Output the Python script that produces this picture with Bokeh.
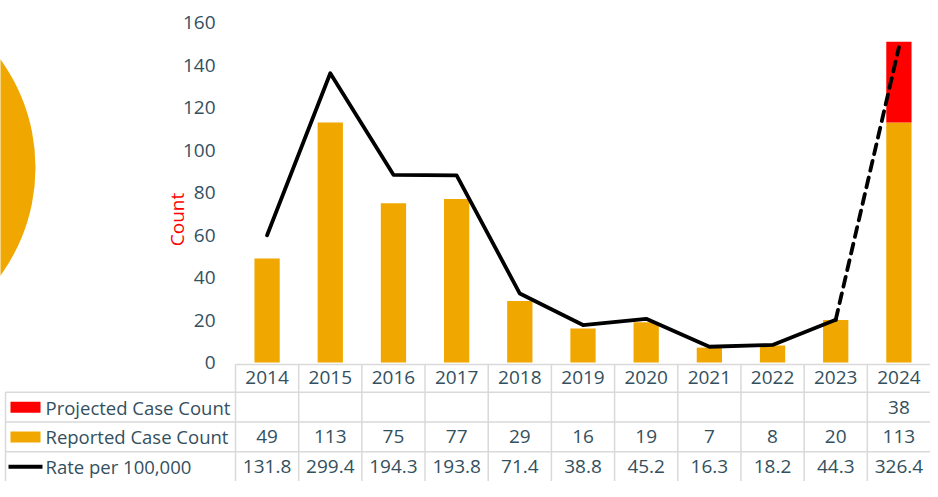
import math
from bokeh.plotting import figure
from bokeh.models import Range1d, FixedTicker
from bokeh.core.properties import value
from bokeh.embed import file_html
from bokeh.resources import INLINE

# ---------------- data ----------------
years = ["2014", "2015", "2016", "2017", "2018", "2019", "2020", "2021", "2022", "2023", "2024"]
reported = [49, 113, 75, 77, 29, 16, 19, 7, 8, 20, 113]
projected = [None, None, None, None, None, None, None, None, None, None, 38]
rate = [131.8, 299.4, 194.3, 193.8, 71.4, 38.8, 45.2, 16.3, 18.2, 44.3, 326.4]
y_ticks = [0, 20, 40, 60, 80, 100, 120, 140, 160]
row_labels = ["Projected Case Count", "Reported Case Count", "Rate per 100,000"]

# ---------------- layout (pixels, figure coordinates) ----------------
W, H = 930, 481
frame_left_px = 235          # x where first category starts
frame_right_px = 930         # x where last category ends
top_px = 22                  # y of count 160
zero_px = 362                # y of count 0
scale = (zero_px - top_px) / 160.0   # px per count
row_px = (H - zero_px) / 4.0         # table row height
rate_ratio = 2.2             # rate units per count unit

n = len(years)
cw = (frame_right_px - frame_left_px) / n
def xd(px):  # figure x -> data x
    return (px - frame_left_px) / cw
def yd(py):  # figure y -> data y (counts)
    return (zero_px - py) / scale

x_start, x_end = xd(0), xd(W)
y_end, y_start = yd(0), yd(H)

TXT = "#33505e"
ORANGE = "#f0a800"
RED = "#ff0000"
GRID = "#d9d9d9"
FONT = "Open Sans"
FS = "19px"

p = figure(width=W, height=H, output_backend="svg", toolbar_location=None,
           x_range=Range1d(x_start, x_end), y_range=Range1d(y_start, y_end),
           min_border=0, min_border_left=0, min_border_right=0,
           min_border_top=0, min_border_bottom=0)
p.outline_line_color = None
p.xgrid.visible = False
p.ygrid.visible = False
p.xaxis.visible = False
p.background_fill_color = "white"
p.border_fill_color = "white"

# decorative circle at left
p.scatter(x=[xd(-149)], y=[yd(167)], marker="circle", size=368,
          fill_color=ORANGE, line_color=None)

# y axis (counts) at fixed location inside frame
ax = p.yaxis[0]
ax.fixed_location = xd(222)
ax.ticker = FixedTicker(ticks=y_ticks)
ax.axis_line_color = None
ax.major_tick_line_color = None
ax.minor_tick_line_color = None
ax.major_tick_out = 0
ax.major_tick_in = 0
ax.major_label_standoff = 7
ax.major_label_text_font = FONT
ax.major_label_text_font_size = FS
ax.major_label_text_color = TXT

# "Count" label
p.text(x=[xd(176)], y=[yd(219)], text=["Count"], angle=math.pi / 2,
       text_align="center", text_baseline="middle", text_color=RED,
       text_font=value(FONT), text_font_size=FS)

# bars
xc = [i + 0.5 for i in range(n)]
bw = 0.4
p.vbar(x=xc, top=reported, bottom=0, width=bw, fill_color=ORANGE, line_color=None)
proj_x = [xc[i] for i in range(n) if projected[i] is not None]
proj_b = [reported[i] for i in range(n) if projected[i] is not None]
proj_t = [reported[i] + projected[i] for i in range(n) if projected[i] is not None]
p.vbar(x=proj_x, bottom=proj_b, top=proj_t, width=bw, fill_color=RED, line_color=None)

# rate line on secondary range
p.extra_y_ranges = {"rate": Range1d(y_start * rate_ratio, y_end * rate_ratio)}
p.line(x=xc[:-1], y=rate[:-1], y_range_name="rate", line_color="black",
       line_width=3.8, line_join="round", line_cap="round")
p.line(x=xc[-2:], y=rate[-2:], y_range_name="rate", line_color="black",
       line_width=3.8, line_dash="10 7", line_cap="round")

# ---------------- data table ----------------
r = row_px / scale  # row height in count units
top_line = yd(zero_px + 2)
legend_left = xd(5)
p.segment(x0=[0], y0=[top_line], x1=[n], y1=[top_line], line_color=GRID, line_width=1.5)
for k in range(1, 4):
    p.segment(x0=[legend_left], y0=[-k * r], x1=[n], y1=[-k * r],
              line_color=GRID, line_width=1.5)
p.segment(x0=list(range(n)), y0=[top_line] * n, x1=list(range(n)), y1=[-4.5 * r] * n,
          line_color=GRID, line_width=1.5)
p.segment(x0=[legend_left], y0=[-r], x1=[legend_left], y1=[-4.5 * r],
          line_color=GRID, line_width=1.5)

def row_text(yc, texts):
    p.text(x=xc, y=[yc] * n, text=texts, text_align="center", text_baseline="middle",
           text_color=TXT, text_font=value(FONT), text_font_size=FS)

row_text(-0.5 * r, years)
row_text(-1.5 * r, [str(v) if v is not None else "" for v in projected])
row_text(-2.5 * r, [str(v) for v in reported])
row_text(-3.5 * r, [f"{v:.1f}" for v in rate])

# legend column
lab_x = xd(45)
p.text(x=[lab_x] * 3, y=[-1.5 * r, -2.5 * r, -3.5 * r], text=row_labels,
       text_align="left", text_baseline="middle", text_color=TXT,
       text_font=value(FONT), text_font_size="18.5px")
sw_h = 11 / scale
p.quad(left=[xd(10)], right=[xd(40)], top=[-1.5 * r + sw_h / 2], bottom=[-1.5 * r - sw_h / 2],
       fill_color=RED, line_color=None)
p.quad(left=[xd(10)], right=[xd(40)], top=[-2.5 * r + sw_h / 2], bottom=[-2.5 * r - sw_h / 2],
       fill_color=ORANGE, line_color=None)
p.segment(x0=[xd(8)], y0=[-3.5 * r], x1=[xd(42)], y1=[-3.5 * r],
          line_color="black", line_width=4)

open("out.html", "w").write(file_html(p, INLINE))
